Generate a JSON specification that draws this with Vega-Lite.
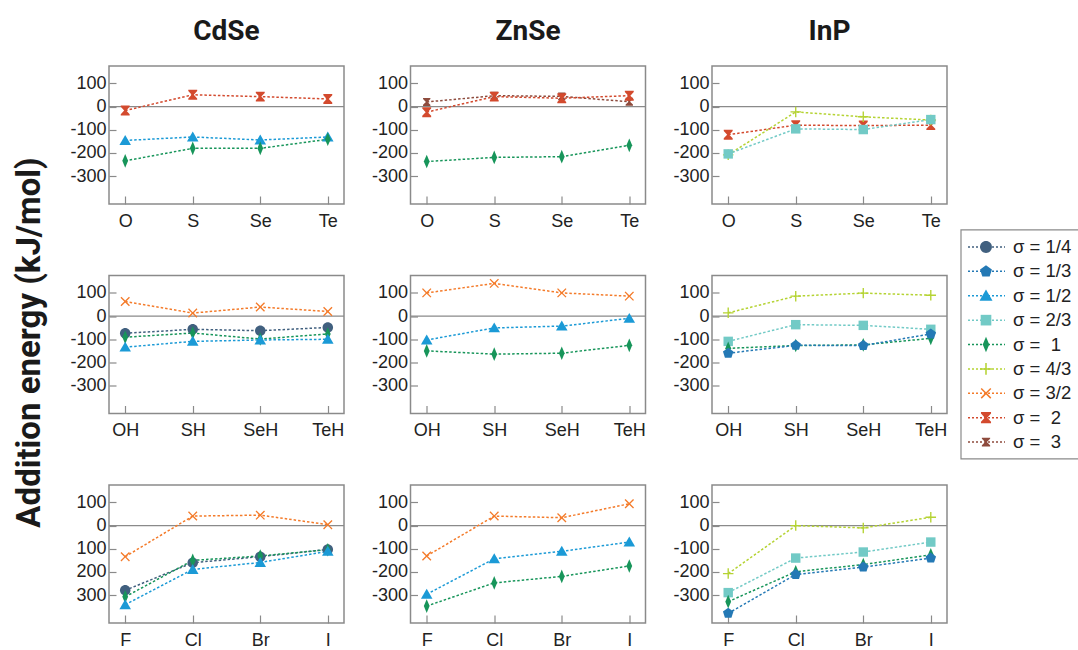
{
"$schema": "https://vega.github.io/schema/vega-lite/v6.json",
"padding": {"left": 14, "top": 17, "right": 0, "bottom": 0},
"title": {"text": "Addition energy (kJ/mol)", "orient": "left", "anchor": "middle", "frame": "bounds", "font": "Roboto", "fontSize": 33, "fontWeight": "bold", "color": "#1a1a1a", "offset": 22, "dx": -9},
"datasets": {"d": [
{"m":"CdSe","g":"A","x":"O","s":"σ = \u00a02","e":-17},{"m":"CdSe","g":"A","x":"S","s":"σ = \u00a02","e":51},{"m":"CdSe","g":"A","x":"Se","s":"σ = \u00a02","e":43},{"m":"CdSe","g":"A","x":"Te","s":"σ = \u00a02","e":33},
{"m":"CdSe","g":"A","x":"O","s":"σ = 1/2","e":-146},{"m":"CdSe","g":"A","x":"S","s":"σ = 1/2","e":-131},{"m":"CdSe","g":"A","x":"Se","s":"σ = 1/2","e":-144},{"m":"CdSe","g":"A","x":"Te","s":"σ = 1/2","e":-131},
{"m":"CdSe","g":"A","x":"O","s":"σ = \u00a01","e":-234},{"m":"CdSe","g":"A","x":"S","s":"σ = \u00a01","e":-180},{"m":"CdSe","g":"A","x":"Se","s":"σ = \u00a01","e":-180},{"m":"CdSe","g":"A","x":"Te","s":"σ = \u00a01","e":-141},
{"m":"ZnSe","g":"A","x":"O","s":"σ = \u00a03","e":20},{"m":"ZnSe","g":"A","x":"S","s":"σ = \u00a03","e":47},{"m":"ZnSe","g":"A","x":"Se","s":"σ = \u00a03","e":44},{"m":"ZnSe","g":"A","x":"Te","s":"σ = \u00a03","e":21},
{"m":"ZnSe","g":"A","x":"O","s":"σ = \u00a02","e":-24},{"m":"ZnSe","g":"A","x":"S","s":"σ = \u00a02","e":43},{"m":"ZnSe","g":"A","x":"Se","s":"σ = \u00a02","e":36},{"m":"ZnSe","g":"A","x":"Te","s":"σ = \u00a02","e":47},
{"m":"ZnSe","g":"A","x":"O","s":"σ = \u00a01","e":-237},{"m":"ZnSe","g":"A","x":"S","s":"σ = \u00a01","e":-219},{"m":"ZnSe","g":"A","x":"Se","s":"σ = \u00a01","e":-216},{"m":"ZnSe","g":"A","x":"Te","s":"σ = \u00a01","e":-167},
{"m":"InP","g":"A","x":"O","s":"σ = \u00a02","e":-121},{"m":"InP","g":"A","x":"S","s":"σ = \u00a02","e":-80},{"m":"InP","g":"A","x":"Se","s":"σ = \u00a02","e":-82},{"m":"InP","g":"A","x":"Te","s":"σ = \u00a02","e":-80},
{"m":"InP","g":"A","x":"O","s":"σ = 4/3","e":-208},{"m":"InP","g":"A","x":"S","s":"σ = 4/3","e":-23},{"m":"InP","g":"A","x":"Se","s":"σ = 4/3","e":-44},{"m":"InP","g":"A","x":"Te","s":"σ = 4/3","e":-58},
{"m":"InP","g":"A","x":"O","s":"σ = 2/3","e":-204},{"m":"InP","g":"A","x":"S","s":"σ = 2/3","e":-96},{"m":"InP","g":"A","x":"Se","s":"σ = 2/3","e":-99},{"m":"InP","g":"A","x":"Te","s":"σ = 2/3","e":-56},
{"m":"CdSe","g":"B","x":"OH","s":"σ = 3/2","e":63},{"m":"CdSe","g":"B","x":"SH","s":"σ = 3/2","e":13},{"m":"CdSe","g":"B","x":"SeH","s":"σ = 3/2","e":39},{"m":"CdSe","g":"B","x":"TeH","s":"σ = 3/2","e":20},
{"m":"CdSe","g":"B","x":"OH","s":"σ = 1/4","e":-74},{"m":"CdSe","g":"B","x":"SH","s":"σ = 1/4","e":-57},{"m":"CdSe","g":"B","x":"SeH","s":"σ = 1/4","e":-63},{"m":"CdSe","g":"B","x":"TeH","s":"σ = 1/4","e":-49},
{"m":"CdSe","g":"B","x":"OH","s":"σ = \u00a01","e":-91},{"m":"CdSe","g":"B","x":"SH","s":"σ = \u00a01","e":-73},{"m":"CdSe","g":"B","x":"SeH","s":"σ = \u00a01","e":-99},{"m":"CdSe","g":"B","x":"TeH","s":"σ = \u00a01","e":-77},
{"m":"CdSe","g":"B","x":"OH","s":"σ = 1/2","e":-134},{"m":"CdSe","g":"B","x":"SH","s":"σ = 1/2","e":-109},{"m":"CdSe","g":"B","x":"SeH","s":"σ = 1/2","e":-103},{"m":"CdSe","g":"B","x":"TeH","s":"σ = 1/2","e":-100},
{"m":"ZnSe","g":"B","x":"OH","s":"σ = 3/2","e":100},{"m":"ZnSe","g":"B","x":"SH","s":"σ = 3/2","e":141},{"m":"ZnSe","g":"B","x":"SeH","s":"σ = 3/2","e":100},{"m":"ZnSe","g":"B","x":"TeH","s":"σ = 3/2","e":86},
{"m":"ZnSe","g":"B","x":"OH","s":"σ = 1/2","e":-103},{"m":"ZnSe","g":"B","x":"SH","s":"σ = 1/2","e":-51},{"m":"ZnSe","g":"B","x":"SeH","s":"σ = 1/2","e":-43},{"m":"ZnSe","g":"B","x":"TeH","s":"σ = 1/2","e":-10},
{"m":"ZnSe","g":"B","x":"OH","s":"σ = \u00a01","e":-150},{"m":"ZnSe","g":"B","x":"SH","s":"σ = \u00a01","e":-164},{"m":"ZnSe","g":"B","x":"SeH","s":"σ = \u00a01","e":-160},{"m":"ZnSe","g":"B","x":"TeH","s":"σ = \u00a01","e":-126},
{"m":"InP","g":"B","x":"OH","s":"σ = 4/3","e":14},{"m":"InP","g":"B","x":"SH","s":"σ = 4/3","e":86},{"m":"InP","g":"B","x":"SeH","s":"σ = 4/3","e":99},{"m":"InP","g":"B","x":"TeH","s":"σ = 4/3","e":90},
{"m":"InP","g":"B","x":"OH","s":"σ = 2/3","e":-109},{"m":"InP","g":"B","x":"SH","s":"σ = 2/3","e":-37},{"m":"InP","g":"B","x":"SeH","s":"σ = 2/3","e":-40},{"m":"InP","g":"B","x":"TeH","s":"σ = 2/3","e":-57},
{"m":"InP","g":"B","x":"OH","s":"σ = \u00a01","e":-139},{"m":"InP","g":"B","x":"SH","s":"σ = \u00a01","e":-127},{"m":"InP","g":"B","x":"SeH","s":"σ = \u00a01","e":-124},{"m":"InP","g":"B","x":"TeH","s":"σ = \u00a01","e":-96},
{"m":"InP","g":"B","x":"OH","s":"σ = 1/3","e":-160},{"m":"InP","g":"B","x":"SH","s":"σ = 1/3","e":-126},{"m":"InP","g":"B","x":"SeH","s":"σ = 1/3","e":-127},{"m":"InP","g":"B","x":"TeH","s":"σ = 1/3","e":-77},
{"m":"CdSe","g":"C","x":"F","s":"σ = 3/2","e":-134},{"m":"CdSe","g":"C","x":"Cl","s":"σ = 3/2","e":41},{"m":"CdSe","g":"C","x":"Br","s":"σ = 3/2","e":45},{"m":"CdSe","g":"C","x":"I","s":"σ = 3/2","e":4},
{"m":"CdSe","g":"C","x":"F","s":"σ = 1/4","e":-279},{"m":"CdSe","g":"C","x":"Cl","s":"σ = 1/4","e":-160},{"m":"CdSe","g":"C","x":"Br","s":"σ = 1/4","e":-134},{"m":"CdSe","g":"C","x":"I","s":"σ = 1/4","e":-103},
{"m":"CdSe","g":"C","x":"F","s":"σ = \u00a01","e":-307},{"m":"CdSe","g":"C","x":"Cl","s":"σ = \u00a01","e":-150},{"m":"CdSe","g":"C","x":"Br","s":"σ = \u00a01","e":-131},{"m":"CdSe","g":"C","x":"I","s":"σ = \u00a01","e":-104},
{"m":"CdSe","g":"C","x":"F","s":"σ = 1/2","e":-341},{"m":"CdSe","g":"C","x":"Cl","s":"σ = 1/2","e":-189},{"m":"CdSe","g":"C","x":"Br","s":"σ = 1/2","e":-159},{"m":"CdSe","g":"C","x":"I","s":"σ = 1/2","e":-111},
{"m":"ZnSe","g":"C","x":"F","s":"σ = 3/2","e":-131},{"m":"ZnSe","g":"C","x":"Cl","s":"σ = 3/2","e":41},{"m":"ZnSe","g":"C","x":"Br","s":"σ = 3/2","e":34},{"m":"ZnSe","g":"C","x":"I","s":"σ = 3/2","e":94},
{"m":"ZnSe","g":"C","x":"F","s":"σ = 1/2","e":-296},{"m":"ZnSe","g":"C","x":"Cl","s":"σ = 1/2","e":-143},{"m":"ZnSe","g":"C","x":"Br","s":"σ = 1/2","e":-111},{"m":"ZnSe","g":"C","x":"I","s":"σ = 1/2","e":-71},
{"m":"ZnSe","g":"C","x":"F","s":"σ = \u00a01","e":-347},{"m":"ZnSe","g":"C","x":"Cl","s":"σ = \u00a01","e":-247},{"m":"ZnSe","g":"C","x":"Br","s":"σ = \u00a01","e":-219},{"m":"ZnSe","g":"C","x":"I","s":"σ = \u00a01","e":-174},
{"m":"InP","g":"C","x":"F","s":"σ = 4/3","e":-207},{"m":"InP","g":"C","x":"Cl","s":"σ = 4/3","e":0},{"m":"InP","g":"C","x":"Br","s":"σ = 4/3","e":-10},{"m":"InP","g":"C","x":"I","s":"σ = 4/3","e":36},
{"m":"InP","g":"C","x":"F","s":"σ = 2/3","e":-289},{"m":"InP","g":"C","x":"Cl","s":"σ = 2/3","e":-140},{"m":"InP","g":"C","x":"Br","s":"σ = 2/3","e":-114},{"m":"InP","g":"C","x":"I","s":"σ = 2/3","e":-71},
{"m":"InP","g":"C","x":"F","s":"σ = \u00a01","e":-328},{"m":"InP","g":"C","x":"Cl","s":"σ = \u00a01","e":-199},{"m":"InP","g":"C","x":"Br","s":"σ = \u00a01","e":-168},{"m":"InP","g":"C","x":"I","s":"σ = \u00a01","e":-126},
{"m":"InP","g":"C","x":"F","s":"σ = 1/3","e":-378},{"m":"InP","g":"C","x":"Cl","s":"σ = 1/3","e":-211},{"m":"InP","g":"C","x":"Br","s":"σ = 1/3","e":-179},{"m":"InP","g":"C","x":"I","s":"σ = 1/3","e":-140}
],
"lg": [
{"s":"σ = 1/4","i":0},{"s":"σ = 1/3","i":1},{"s":"σ = 1/2","i":2},{"s":"σ = 2/3","i":3},{"s":"σ = \u00a01","i":4},{"s":"σ = 4/3","i":5},{"s":"σ = 3/2","i":6},{"s":"σ = \u00a02","i":7},{"s":"σ = \u00a03","i":8}
]},
"spacing": 11,
"resolve": {"scale": {"x": "independent", "y": "independent"}},
"hconcat": [
{
"data": {"name": "d"},
"columns": 3,
"bounds": "flush",
"spacing": {"row": 71.5, "column": 66.5},
"resolve": {"scale": {"x": "independent", "y": "independent"}},
"concat": [
{"width": 235, "height": 138, "title": {"text": "CdSe"},
 "layer": [
  {"data": {"values": [{"z": 0}]}, "mark": {"type": "rule", "color": "#8a8a8a", "strokeWidth": 1.2}, "encoding": {"y": {"field": "z", "type": "quantitative", "scale": {"domain": [-420, 175], "nice": false}, "axis": {"title": null, "values": [-300, -200, -100, 0, 100], "labelExpr": "replace(datum.label, '−', '-')"}}}},
  {"transform": [{"filter": "datum.m == 'CdSe' && datum.g == 'A'"}], "mark": {"type": "line", "strokeDash": [2.5, 2], "strokeWidth": 1.5}, "encoding": {
    "x": {"field": "x", "type": "nominal", "sort": null, "scale": {"domain": ["O", "S", "Se", "Te"], "padding": 0.24}, "axis": {"title": null, "labelAngle": 0}},
    "y": {"field": "e", "type": "quantitative", "scale": {"domain": [-420, 175], "nice": false}, "axis": {"title": null, "values": [-300, -200, -100, 0, 100], "labelExpr": "replace(datum.label, '−', '-')"}},
    "stroke": {"field": "s", "type": "nominal", "scale": {"domain": ["σ = 1/4","σ = 1/3","σ = 1/2","σ = 2/3","σ = \u00a01","σ = 4/3","σ = 3/2","σ = \u00a02","σ = \u00a03"], "range": ["#41607f","#2479b5","#1b9ad6","#72cac6","#17955a","#b5d333","#f47b2a","#d34a2e","#8e4b3d"]}, "legend": null}}},
  {"transform": [{"filter": "datum.m == 'CdSe' && datum.g == 'A'"}], "mark": {"type": "point", "filled": true, "opacity": 1, "size": 110}, "encoding": {
    "x": {"field": "x", "type": "nominal", "sort": null, "scale": {"domain": ["O", "S", "Se", "Te"], "padding": 0.24}, "axis": {"title": null, "labelAngle": 0}},
    "y": {"field": "e", "type": "quantitative", "scale": {"domain": [-420, 175], "nice": false}, "axis": {"title": null, "values": [-300, -200, -100, 0, 100], "labelExpr": "replace(datum.label, '−', '-')"}},
    "color": {"field": "s", "type": "nominal", "scale": {"domain": ["σ = 1/4","σ = 1/3","σ = 1/2","σ = 2/3","σ = \u00a01","σ = 4/3","σ = 3/2","σ = \u00a02","σ = \u00a03"], "range": ["#41607f","#2479b5","#1b9ad6","#72cac6","#17955a","#b5d333","#f47b2a","#d34a2e","#8e4b3d"]}, "legend": null},
    "shape": {"field": "s", "type": "nominal", "scale": {"domain": ["σ = 1/4","σ = 1/3","σ = 1/2","σ = 2/3","σ = \u00a01","σ = 4/3","σ = 3/2","σ = \u00a02","σ = \u00a03"], "range": ["M1,0A1,1,0,1,1,-1,0A1,1,0,1,1,1,0Z","M0,-1.05L1,-0.32L0.62,0.85L-0.62,0.85L-1,-0.32Z","M0,-1.05L1.1,0.85L-1.1,0.85Z","M-0.9,-0.9L0.9,-0.9L0.9,0.9L-0.9,0.9Z","M0,-1.3L0.55,0L0,1.3L-0.55,0Z","M-0.13,-1L0.13,-1L0.13,-0.13L1,-0.13L1,0.13L0.13,0.13L0.13,1L-0.13,1L-0.13,0.13L-1,0.13L-1,-0.13L-0.13,-0.13Z","M-0.9,-0.72L-0.72,-0.9L0,-0.18L0.72,-0.9L0.9,-0.72L0.18,0L0.9,0.72L0.72,0.9L0,0.18L-0.72,0.9L-0.9,0.72L-0.18,0Z","M-0.85,-0.95L0.85,-0.95L0.85,-0.7L0.2,0L0.85,0.7L0.85,0.95L-0.85,0.95L-0.85,0.7L-0.2,0L-0.85,-0.7Z","M-0.7,-0.75L0.7,-0.75L0.7,-0.55L0.15,0L0.7,0.55L0.7,0.75L-0.7,0.75L-0.7,0.55L-0.15,0L-0.7,-0.55Z"]}, "legend": null}}}
 ]},
{"width": 235, "height": 138, "title": {"text": "ZnSe"},
 "layer": [
  {"data": {"values": [{"z": 0}]}, "mark": {"type": "rule", "color": "#8a8a8a", "strokeWidth": 1.2}, "encoding": {"y": {"field": "z", "type": "quantitative", "scale": {"domain": [-420, 175], "nice": false}, "axis": {"title": null, "values": [-300, -200, -100, 0, 100], "labelExpr": "replace(datum.label, '−', '-')"}}}},
  {"transform": [{"filter": "datum.m == 'ZnSe' && datum.g == 'A'"}], "mark": {"type": "line", "strokeDash": [2.5, 2], "strokeWidth": 1.5}, "encoding": {
    "x": {"field": "x", "type": "nominal", "sort": null, "scale": {"domain": ["O", "S", "Se", "Te"], "padding": 0.24}, "axis": {"title": null, "labelAngle": 0}},
    "y": {"field": "e", "type": "quantitative", "scale": {"domain": [-420, 175], "nice": false}, "axis": {"title": null, "values": [-300, -200, -100, 0, 100], "labelExpr": "replace(datum.label, '−', '-')"}},
    "stroke": {"field": "s", "type": "nominal", "legend": null}}},
  {"transform": [{"filter": "datum.m == 'ZnSe' && datum.g == 'A'"}], "mark": {"type": "point", "filled": true, "opacity": 1, "size": 110}, "encoding": {
    "x": {"field": "x", "type": "nominal", "sort": null, "scale": {"domain": ["O", "S", "Se", "Te"], "padding": 0.24}, "axis": {"title": null, "labelAngle": 0}},
    "y": {"field": "e", "type": "quantitative", "scale": {"domain": [-420, 175], "nice": false}, "axis": {"title": null, "values": [-300, -200, -100, 0, 100], "labelExpr": "replace(datum.label, '−', '-')"}},
    "color": {"field": "s", "type": "nominal", "legend": null},
    "shape": {"field": "s", "type": "nominal", "legend": null}}}
 ]},
{"width": 235, "height": 138, "title": {"text": "InP"},
 "layer": [
  {"data": {"values": [{"z": 0}]}, "mark": {"type": "rule", "color": "#8a8a8a", "strokeWidth": 1.2}, "encoding": {"y": {"field": "z", "type": "quantitative", "scale": {"domain": [-420, 175], "nice": false}, "axis": {"title": null, "values": [-300, -200, -100, 0, 100], "labelExpr": "replace(datum.label, '−', '-')"}}}},
  {"transform": [{"filter": "datum.m == 'InP' && datum.g == 'A'"}], "mark": {"type": "line", "strokeDash": [2.5, 2], "strokeWidth": 1.5}, "encoding": {
    "x": {"field": "x", "type": "nominal", "sort": null, "scale": {"domain": ["O", "S", "Se", "Te"], "padding": 0.24}, "axis": {"title": null, "labelAngle": 0}},
    "y": {"field": "e", "type": "quantitative", "scale": {"domain": [-420, 175], "nice": false}, "axis": {"title": null, "values": [-300, -200, -100, 0, 100], "labelExpr": "replace(datum.label, '−', '-')"}},
    "stroke": {"field": "s", "type": "nominal", "legend": null}}},
  {"transform": [{"filter": "datum.m == 'InP' && datum.g == 'A'"}], "mark": {"type": "point", "filled": true, "opacity": 1, "size": 110}, "encoding": {
    "x": {"field": "x", "type": "nominal", "sort": null, "scale": {"domain": ["O", "S", "Se", "Te"], "padding": 0.24}, "axis": {"title": null, "labelAngle": 0}},
    "y": {"field": "e", "type": "quantitative", "scale": {"domain": [-420, 175], "nice": false}, "axis": {"title": null, "values": [-300, -200, -100, 0, 100], "labelExpr": "replace(datum.label, '−', '-')"}},
    "color": {"field": "s", "type": "nominal", "legend": null},
    "shape": {"field": "s", "type": "nominal", "legend": null}}}
 ]},
{"width": 235, "height": 138,
 "layer": [
  {"data": {"values": [{"z": 0}]}, "mark": {"type": "rule", "color": "#8a8a8a", "strokeWidth": 1.2}, "encoding": {"y": {"field": "z", "type": "quantitative", "scale": {"domain": [-420, 175], "nice": false}, "axis": {"title": null, "values": [-300, -200, -100, 0, 100], "labelExpr": "replace(datum.label, '−', '-')"}}}},
  {"transform": [{"filter": "datum.m == 'CdSe' && datum.g == 'B'"}], "mark": {"type": "line", "strokeDash": [2.5, 2], "strokeWidth": 1.5}, "encoding": {
    "x": {"field": "x", "type": "nominal", "sort": null, "scale": {"domain": ["OH", "SH", "SeH", "TeH"], "padding": 0.24}, "axis": {"title": null, "labelAngle": 0}},
    "y": {"field": "e", "type": "quantitative", "scale": {"domain": [-420, 175], "nice": false}, "axis": {"title": null, "values": [-300, -200, -100, 0, 100], "labelExpr": "replace(datum.label, '−', '-')"}},
    "stroke": {"field": "s", "type": "nominal", "legend": null}}},
  {"transform": [{"filter": "datum.m == 'CdSe' && datum.g == 'B'"}], "mark": {"type": "point", "filled": true, "opacity": 1, "size": 110}, "encoding": {
    "x": {"field": "x", "type": "nominal", "sort": null, "scale": {"domain": ["OH", "SH", "SeH", "TeH"], "padding": 0.24}, "axis": {"title": null, "labelAngle": 0}},
    "y": {"field": "e", "type": "quantitative", "scale": {"domain": [-420, 175], "nice": false}, "axis": {"title": null, "values": [-300, -200, -100, 0, 100], "labelExpr": "replace(datum.label, '−', '-')"}},
    "color": {"field": "s", "type": "nominal", "legend": null},
    "shape": {"field": "s", "type": "nominal", "legend": null}}}
 ]},
{"width": 235, "height": 138,
 "layer": [
  {"data": {"values": [{"z": 0}]}, "mark": {"type": "rule", "color": "#8a8a8a", "strokeWidth": 1.2}, "encoding": {"y": {"field": "z", "type": "quantitative", "scale": {"domain": [-420, 175], "nice": false}, "axis": {"title": null, "values": [-300, -200, -100, 0, 100], "labelExpr": "replace(datum.label, '−', '-')"}}}},
  {"transform": [{"filter": "datum.m == 'ZnSe' && datum.g == 'B'"}], "mark": {"type": "line", "strokeDash": [2.5, 2], "strokeWidth": 1.5}, "encoding": {
    "x": {"field": "x", "type": "nominal", "sort": null, "scale": {"domain": ["OH", "SH", "SeH", "TeH"], "padding": 0.24}, "axis": {"title": null, "labelAngle": 0}},
    "y": {"field": "e", "type": "quantitative", "scale": {"domain": [-420, 175], "nice": false}, "axis": {"title": null, "values": [-300, -200, -100, 0, 100], "labelExpr": "replace(datum.label, '−', '-')"}},
    "stroke": {"field": "s", "type": "nominal", "legend": null}}},
  {"transform": [{"filter": "datum.m == 'ZnSe' && datum.g == 'B'"}], "mark": {"type": "point", "filled": true, "opacity": 1, "size": 110}, "encoding": {
    "x": {"field": "x", "type": "nominal", "sort": null, "scale": {"domain": ["OH", "SH", "SeH", "TeH"], "padding": 0.24}, "axis": {"title": null, "labelAngle": 0}},
    "y": {"field": "e", "type": "quantitative", "scale": {"domain": [-420, 175], "nice": false}, "axis": {"title": null, "values": [-300, -200, -100, 0, 100], "labelExpr": "replace(datum.label, '−', '-')"}},
    "color": {"field": "s", "type": "nominal", "legend": null},
    "shape": {"field": "s", "type": "nominal", "legend": null}}}
 ]},
{"width": 235, "height": 138,
 "layer": [
  {"data": {"values": [{"z": 0}]}, "mark": {"type": "rule", "color": "#8a8a8a", "strokeWidth": 1.2}, "encoding": {"y": {"field": "z", "type": "quantitative", "scale": {"domain": [-420, 175], "nice": false}, "axis": {"title": null, "values": [-300, -200, -100, 0, 100], "labelExpr": "replace(datum.label, '−', '-')"}}}},
  {"transform": [{"filter": "datum.m == 'InP' && datum.g == 'B'"}], "mark": {"type": "line", "strokeDash": [2.5, 2], "strokeWidth": 1.5}, "encoding": {
    "x": {"field": "x", "type": "nominal", "sort": null, "scale": {"domain": ["OH", "SH", "SeH", "TeH"], "padding": 0.24}, "axis": {"title": null, "labelAngle": 0}},
    "y": {"field": "e", "type": "quantitative", "scale": {"domain": [-420, 175], "nice": false}, "axis": {"title": null, "values": [-300, -200, -100, 0, 100], "labelExpr": "replace(datum.label, '−', '-')"}},
    "stroke": {"field": "s", "type": "nominal", "legend": null}}},
  {"transform": [{"filter": "datum.m == 'InP' && datum.g == 'B'"}], "mark": {"type": "point", "filled": true, "opacity": 1, "size": 110}, "encoding": {
    "x": {"field": "x", "type": "nominal", "sort": null, "scale": {"domain": ["OH", "SH", "SeH", "TeH"], "padding": 0.24}, "axis": {"title": null, "labelAngle": 0}},
    "y": {"field": "e", "type": "quantitative", "scale": {"domain": [-420, 175], "nice": false}, "axis": {"title": null, "values": [-300, -200, -100, 0, 100], "labelExpr": "replace(datum.label, '−', '-')"}},
    "color": {"field": "s", "type": "nominal", "legend": null},
    "shape": {"field": "s", "type": "nominal", "legend": null}}}
 ]},
{"width": 235, "height": 138,
 "layer": [
  {"data": {"values": [{"z": 0}]}, "mark": {"type": "rule", "color": "#8a8a8a", "strokeWidth": 1.2}, "encoding": {"y": {"field": "z", "type": "quantitative", "scale": {"domain": [-420, 175], "nice": false}, "axis": {"title": null, "values": [-300, -200, -100, 0, 100], "labelExpr": "datum.value < 0 ? format(-datum.value, 'd') : datum.label"}}}},
  {"transform": [{"filter": "datum.m == 'CdSe' && datum.g == 'C'"}], "mark": {"type": "line", "strokeDash": [2.5, 2], "strokeWidth": 1.5}, "encoding": {
    "x": {"field": "x", "type": "nominal", "sort": null, "scale": {"domain": ["F", "Cl", "Br", "I"], "padding": 0.24}, "axis": {"title": null, "labelAngle": 0}},
    "y": {"field": "e", "type": "quantitative", "scale": {"domain": [-420, 175], "nice": false}, "axis": {"title": null, "values": [-300, -200, -100, 0, 100], "labelExpr": "datum.value < 0 ? format(-datum.value, 'd') : datum.label"}},
    "stroke": {"field": "s", "type": "nominal", "legend": null}}},
  {"transform": [{"filter": "datum.m == 'CdSe' && datum.g == 'C'"}], "mark": {"type": "point", "filled": true, "opacity": 1, "size": 110}, "encoding": {
    "x": {"field": "x", "type": "nominal", "sort": null, "scale": {"domain": ["F", "Cl", "Br", "I"], "padding": 0.24}, "axis": {"title": null, "labelAngle": 0}},
    "y": {"field": "e", "type": "quantitative", "scale": {"domain": [-420, 175], "nice": false}, "axis": {"title": null, "values": [-300, -200, -100, 0, 100], "labelExpr": "datum.value < 0 ? format(-datum.value, 'd') : datum.label"}},
    "color": {"field": "s", "type": "nominal", "legend": null},
    "shape": {"field": "s", "type": "nominal", "legend": null}}}
 ]},
{"width": 235, "height": 138,
 "layer": [
  {"data": {"values": [{"z": 0}]}, "mark": {"type": "rule", "color": "#8a8a8a", "strokeWidth": 1.2}, "encoding": {"y": {"field": "z", "type": "quantitative", "scale": {"domain": [-420, 175], "nice": false}, "axis": {"title": null, "values": [-300, -200, -100, 0, 100], "labelExpr": "replace(datum.label, '−', '-')"}}}},
  {"transform": [{"filter": "datum.m == 'ZnSe' && datum.g == 'C'"}], "mark": {"type": "line", "strokeDash": [2.5, 2], "strokeWidth": 1.5}, "encoding": {
    "x": {"field": "x", "type": "nominal", "sort": null, "scale": {"domain": ["F", "Cl", "Br", "I"], "padding": 0.24}, "axis": {"title": null, "labelAngle": 0}},
    "y": {"field": "e", "type": "quantitative", "scale": {"domain": [-420, 175], "nice": false}, "axis": {"title": null, "values": [-300, -200, -100, 0, 100], "labelExpr": "replace(datum.label, '−', '-')"}},
    "stroke": {"field": "s", "type": "nominal", "legend": null}}},
  {"transform": [{"filter": "datum.m == 'ZnSe' && datum.g == 'C'"}], "mark": {"type": "point", "filled": true, "opacity": 1, "size": 110}, "encoding": {
    "x": {"field": "x", "type": "nominal", "sort": null, "scale": {"domain": ["F", "Cl", "Br", "I"], "padding": 0.24}, "axis": {"title": null, "labelAngle": 0}},
    "y": {"field": "e", "type": "quantitative", "scale": {"domain": [-420, 175], "nice": false}, "axis": {"title": null, "values": [-300, -200, -100, 0, 100], "labelExpr": "replace(datum.label, '−', '-')"}},
    "color": {"field": "s", "type": "nominal", "legend": null},
    "shape": {"field": "s", "type": "nominal", "legend": null}}}
 ]},
{"width": 235, "height": 138,
 "layer": [
  {"data": {"values": [{"z": 0}]}, "mark": {"type": "rule", "color": "#8a8a8a", "strokeWidth": 1.2}, "encoding": {"y": {"field": "z", "type": "quantitative", "scale": {"domain": [-420, 175], "nice": false}, "axis": {"title": null, "values": [-300, -200, -100, 0, 100], "labelExpr": "replace(datum.label, '−', '-')"}}}},
  {"transform": [{"filter": "datum.m == 'InP' && datum.g == 'C'"}], "mark": {"type": "line", "strokeDash": [2.5, 2], "strokeWidth": 1.5}, "encoding": {
    "x": {"field": "x", "type": "nominal", "sort": null, "scale": {"domain": ["F", "Cl", "Br", "I"], "padding": 0.24}, "axis": {"title": null, "labelAngle": 0}},
    "y": {"field": "e", "type": "quantitative", "scale": {"domain": [-420, 175], "nice": false}, "axis": {"title": null, "values": [-300, -200, -100, 0, 100], "labelExpr": "replace(datum.label, '−', '-')"}},
    "stroke": {"field": "s", "type": "nominal", "legend": null}}},
  {"transform": [{"filter": "datum.m == 'InP' && datum.g == 'C'"}], "mark": {"type": "point", "filled": true, "opacity": 1, "size": 110}, "encoding": {
    "x": {"field": "x", "type": "nominal", "sort": null, "scale": {"domain": ["F", "Cl", "Br", "I"], "padding": 0.24}, "axis": {"title": null, "labelAngle": 0}},
    "y": {"field": "e", "type": "quantitative", "scale": {"domain": [-420, 175], "nice": false}, "axis": {"title": null, "values": [-300, -200, -100, 0, 100], "labelExpr": "replace(datum.label, '−', '-')"}},
    "color": {"field": "s", "type": "nominal", "legend": null},
    "shape": {"field": "s", "type": "nominal", "legend": null}}}
 ]}
]
},
{
"width": 125, "height": 400,
"view": {"stroke": null},
"data": {"name": "lg"},
"layer": [
  {"data": {"values": [{"b": 1}]}, "mark": {"type": "rect", "fill": "transparent", "stroke": "#8a8a8a", "strokeWidth": 1.2},
   "encoding": {"x": {"datum": 0, "type": "quantitative", "scale": {"domain": [0, 10], "nice": false, "zero": false}, "axis": null}, "x2": {"datum": 10},
                "y": {"datum": -0.7, "type": "quantitative", "scale": {"domain": [-7.42, 8.98], "nice": false, "zero": false, "reverse": true}, "axis": null}, "y2": {"datum": 8.69}}},
  {"mark": {"type": "rule", "strokeDash": [2, 2], "strokeWidth": 1.5},
   "encoding": {"x": {"datum": 0.56, "type": "quantitative", "scale": {"domain": [0, 10], "nice": false, "zero": false}, "axis": null}, "x2": {"datum": 3.52},
                "y": {"field": "i", "type": "quantitative", "scale": {"domain": [-7.42, 8.98], "nice": false, "zero": false, "reverse": true}, "axis": null},
                "stroke": {"field": "s", "type": "nominal", "legend": null}}},
  {"mark": {"type": "point", "filled": true, "opacity": 1, "size": 140},
   "encoding": {"x": {"datum": 2, "type": "quantitative", "scale": {"domain": [0, 10], "nice": false, "zero": false}, "axis": null},
                "y": {"field": "i", "type": "quantitative", "scale": {"domain": [-7.42, 8.98], "nice": false, "zero": false, "reverse": true}, "axis": null},
                "color": {"field": "s", "type": "nominal", "legend": null},
                "shape": {"field": "s", "type": "nominal", "legend": null}}},
  {"mark": {"type": "text", "align": "left", "baseline": "middle", "fontSize": 18.5, "color": "#222222", "font": "Liberation Sans"},
   "encoding": {"x": {"datum": 4.16, "type": "quantitative", "scale": {"domain": [0, 10], "nice": false, "zero": false}, "axis": null},
                "y": {"field": "i", "type": "quantitative", "scale": {"domain": [-7.42, 8.98], "nice": false, "zero": false, "reverse": true}, "axis": null},
                "text": {"field": "s", "type": "nominal"}}}
]
}
],
"config": {
  "font": "Liberation Sans",
  "view": {"stroke": "#8a8a8a", "strokeWidth": 1.5},
  "title": {"font": "Roboto", "fontSize": 28, "fontWeight": "bold", "color": "#1a1a1a", "offset": 20, "frame": "group"},
  "axis": {"domain": false, "grid": false, "tickColor": "#8a8a8a", "tickWidth": 1.2, "labelFontSize": 18, "labelColor": "#222222", "labelFont": "Liberation Sans"},
  "axisX": {"tickSize": -8, "labelPadding": 16},
  "axisY": {"tickSize": -7, "labelPadding": 10},
  "legend": {"disable": true}
}
}
